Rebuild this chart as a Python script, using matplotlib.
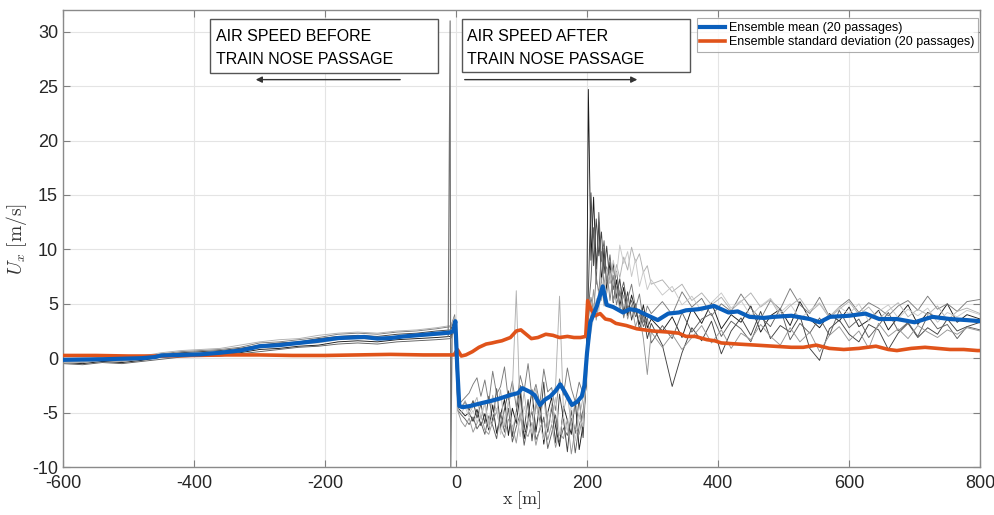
import numpy as np
import matplotlib
matplotlib.use('Agg')
import matplotlib.pyplot as plt
from matplotlib.patches import Rectangle

plt.rcParams['font.family'] = ['Liberation Sans', 'DejaVu Sans']
plt.rcParams['mathtext.fontset'] = 'cm'
plt.rcParams['axes.unicode_minus'] = False

# shared x grid for the single passages (m)
x_pre = [-600,-570,-540,-510,-480,-450,-420,-390,-360,-330,-300,-270,-240,-210,-180,-150,-120,-90,-60,-30,-8,-2]
x_mid = [3,8,14,20,26,32,38,44,50,56,62,68,74,80,86,92,98,104,110,116,
         122,128,134,140,146,152,158,164,170,176,182,188,194,199]
x_hi = [202,206,210,214,218,222,226,230,235,240,245,250,256,262,268,274,280,286,292,298]
x_tail = [315,330,345,360,375,390,405,420,435,450,465,480,495,510,525,540,555,570,585,600,
          615,630,645,660,675,690,705,720,735,750,765,780,800]

# single passages, Ux (m/s)
g1 = [-0.4,-0.5,-0.3,-0.4,-0.2,0.1,0.2,0.3,0.3,0.5,0.8,0.9,1.1,1.2,1.5,1.6,1.5,1.7,1.8,1.9,2.0,2.9,
      -4.6,-4.9,-5.3,-5.0,-5.8,-4.7,-6.2,-5.1,-6.6,-4.3,-6.9,-5.2,-3.8,-7.1,-4.6,-6.0,-3.2,-7.4,-5.5,-2.9,
      -6.8,-4.1,-7.9,-5.0,-3.6,-6.3,-8.1,-4.4,-5.7,-7.0,-3.9,-8.4,-6.1,-2.0,
      24.7,9.0,14.8,8.2,12.5,7.0,10.1,6.2,8.8,5.1,7.2,4.8,6.5,3.9,5.8,4.4,3.1,4.9,2.8,3.6,
      2.5,3.8,1.9,4.6,3.2,5.1,2.7,4.0,3.3,4.8,2.4,3.9,4.5,3.0,5.2,3.6,2.8,4.1,3.4,4.7,
      2.9,3.5,4.4,2.6,3.8,4.9,3.1,4.2,3.7,5.0,3.3,4.0,3.6]
g2 = [-0.2,-0.3,-0.1,-0.2,0.0,0.3,0.5,0.6,0.7,0.9,1.2,1.4,1.5,1.8,2.0,2.1,2.0,2.2,2.3,2.5,2.6,3.6,
      -4.3,-4.5,-4.0,-4.8,-3.9,-5.5,-4.2,-6.0,-3.5,-5.8,-2.8,-6.4,-4.7,-3.0,-7.2,-4.9,-2.5,-6.6,-3.8,-7.6,
      -4.0,-5.9,-2.2,-6.8,-4.5,-7.8,-3.3,-5.6,-8.6,-4.8,-6.9,-3.7,-7.3,-1.5,
      6.0,15.2,8.5,12.8,9.4,11.6,7.8,10.3,6.9,8.7,5.5,7.3,4.2,6.1,3.5,5.0,2.6,4.1,1.8,3.2,
      1.2,-2.6,0.5,2.8,1.6,3.4,0.4,2.5,3.7,2.1,4.3,1.8,3.0,2.4,3.9,0.9,-0.2,2.7,3.5,2.2,
      1.5,3.1,2.6,0.8,2.3,3.2,1.9,2.8,2.2,3.6,2.5,2.9,3.3]
g3 = [-0.5,-0.6,-0.4,-0.5,-0.3,-0.1,0.1,0.2,0.2,0.4,0.6,0.8,1.0,1.1,1.3,1.4,1.3,1.5,1.6,1.7,1.8,2.6,
      -4.8,-5.2,-5.6,-6.1,-5.4,-6.5,-5.9,-7.0,-5.3,-6.2,-7.4,-5.0,-6.8,-4.6,-7.7,-6.3,-5.1,-8.0,-6.0,-4.9,
      -7.5,-6.6,-5.4,-8.3,-6.9,-5.2,-7.8,-6.4,-7.1,-5.5,-8.7,-6.2,-4.8,-2.5,
      4.5,7.2,12.0,6.8,13.4,8.9,10.8,7.1,9.5,6.3,8.0,5.7,7.0,4.6,5.3,3.8,4.5,2.9,3.7,1.4,
      3.0,1.8,4.2,2.4,3.6,4.1,2.0,3.4,2.7,1.5,3.8,2.9,4.6,1.7,3.2,2.3,3.7,2.1,4.4,2.8,
      3.6,1.9,3.0,4.2,2.5,3.3,2.0,3.9,2.7,3.1,1.8,2.9,2.6]
g4 = [-0.1,-0.2,0.0,-0.1,0.1,0.4,0.6,0.7,0.8,1.0,1.4,1.5,1.7,1.9,2.2,2.3,2.2,2.4,2.5,2.7,2.9,4.0,
      -4.4,-4.0,-3.6,-3.2,-2.4,-1.8,-3.5,-2.0,-4.1,-1.2,-3.3,-2.6,-0.8,-3.9,-2.1,-4.5,-1.6,-3.0,-0.5,-3.6,
      -2.4,-4.2,-1.0,-3.1,-2.7,-4.8,-1.9,-3.4,-0.9,-2.8,-4.0,-2.2,-3.3,0.5,
      3.5,5.6,4.2,7.5,5.9,9.8,6.6,8.4,5.3,7.6,4.9,6.2,3.7,5.4,6.8,4.6,5.9,3.3,4.8,4.1,
      5.2,4.0,6.1,4.7,5.5,3.9,5.0,4.3,5.9,4.6,3.6,5.3,4.5,6.4,4.9,4.1,5.6,3.8,4.7,5.4,
      4.2,5.1,4.6,3.9,4.8,5.3,4.4,5.7,4.5,5.0,4.3,5.2,5.4]
g5 = [-0.3,-0.4,-0.2,-0.3,-0.1,0.2,0.4,0.5,0.6,0.8,1.0,1.2,1.3,1.5,1.8,1.9,1.8,2.0,2.1,2.2,2.3,3.1,
      -4.9,-5.8,-6.3,-5.5,-6.8,-6.0,-5.2,-6.6,-7.0,-5.8,-4.9,-6.5,-7.3,-5.6,-6.2,-7.8,-5.3,-6.7,-7.2,-5.9,
      -8.0,-6.4,-5.7,-7.5,-6.1,-8.2,-6.8,-7.4,-5.6,-8.8,-6.5,-7.0,-5.1,-1.8,
      2.8,4.0,6.3,3.5,5.1,7.4,4.8,6.0,8.1,5.2,6.6,4.4,5.8,3.6,4.9,2.9,4.0,1.8,-1.5,2.4,
      1.0,2.2,0.8,1.9,3.0,1.4,2.6,0.9,2.3,1.7,3.1,2.0,1.2,2.8,1.5,2.4,0.6,2.1,2.9,1.6,
      2.5,0.9,3.2,2.0,2.7,1.8,3.0,2.4,1.9,2.6,2.2,2.8,2.5]
g6 = [-0.2,-0.1,0.1,0.0,0.2,0.5,0.7,0.8,0.9,1.2,1.5,1.7,1.8,2.1,2.3,2.4,2.3,2.5,2.6,2.8,3.0,3.8,
      -4.2,-4.6,-3.9,-5.1,-4.4,-3.6,-5.6,-4.0,-6.1,-3.4,-5.0,-2.9,-6.3,-4.1,-3.0,6.2,-5.7,-3.1,-6.0,-4.6,
      -2.7,-5.4,-3.8,-6.5,-4.3,-2.5,5.7,-4.9,-3.3,-6.2,-4.0,-5.5,-3.6,-0.5,
      1.5,3.2,5.0,4.1,6.2,5.3,7.1,6.0,7.8,6.7,8.6,7.4,9.3,8.1,10.2,8.8,9.6,7.9,8.5,6.8,
      7.2,6.1,6.8,5.3,6.0,4.9,5.6,4.4,5.2,6.0,4.7,5.4,3.9,4.8,5.5,4.2,5.0,3.7,4.5,5.2,
      4.0,4.7,3.6,4.4,5.1,3.8,4.5,4.0,4.8,3.5,4.3,4.6,4.1]
g7 = [-0.4,-0.3,-0.2,-0.2,0.0,0.3,0.3,0.4,0.5,0.7,0.9,1.1,1.3,1.4,1.7,1.8,1.7,1.9,2.0,2.1,2.2,2.8,
      -4.7,-5.0,-4.5,-5.4,-4.8,-5.9,-5.1,-4.3,-6.4,-5.2,-4.6,-7.0,-5.5,-3.9,-6.6,-5.0,-7.2,-4.4,-5.8,-6.9,
      -3.8,-6.2,-7.5,-4.9,-6.0,-3.6,-7.1,-5.3,-6.7,-4.2,-7.6,-5.4,-6.3,-1.2,
      1.0,2.4,3.8,5.5,4.3,6.8,5.7,8.2,6.9,9.0,7.6,10.4,8.7,9.8,7.5,9.1,6.6,8.0,6.3,7.2,
      5.8,6.6,4.9,5.7,4.3,5.1,6.0,4.6,5.3,3.9,4.8,5.5,4.2,5.0,3.6,4.4,5.1,3.8,4.7,4.1,
      5.0,3.4,4.3,4.9,3.7,4.5,3.9,4.6,3.3,4.2,3.8,4.4,4.0]
gray_colors = ['#1a1a1a', '#404040', '#5e5e5e', '#7a7a7a', '#959595', '#b0b0b0', '#c8c8c8']

# glitch at the sensor just before the nose
x_spike = [-12, -9, -8.6, -8, -6]
y_spike = [2.0, 31.0, 13.0, -10.5, 2.0]

# ensemble mean
x_mean = [-600,-570,-540,-510,-480,-460,-450,-420,-390,-360,-330,-310,-300,-270,-240,-210,-180,-160,-140,-120,-100,-80,-60,-40,-20,-10,-4,-1,
          2,5,10,21,41,55,67,82,95,101,113,120,128,136,144,152,159,165,177,185,192,196,200,205,215,224,
          230,240,255,265,276,290,308,324,340,351,370,394,416,430,448,470,485,512,540,555,571,600,625,646,673,700,727,754,780,800]
u_mean = [-0.15,-0.12,-0.1,-0.05,0.0,0.1,0.25,0.3,0.35,0.5,0.7,0.95,1.1,1.2,1.4,1.6,1.85,1.9,1.95,1.8,1.85,2.0,2.1,2.2,2.3,2.35,2.5,3.4,
          -1.0,-4.4,-4.5,-4.4,-4.1,-3.9,-3.7,-3.4,-3.2,-2.75,-3.1,-3.4,-4.3,-3.8,-3.5,-3.0,-2.4,-3.0,-4.3,-4.0,-3.5,-2.5,0.5,3.3,4.8,6.6,
          4.9,4.7,4.2,4.5,4.4,4.0,3.5,4.1,4.2,4.4,4.5,4.8,4.2,4.3,3.8,3.7,3.8,3.9,3.6,3.3,3.8,3.9,4.1,3.6,3.6,3.3,3.8,3.6,3.5,3.4]

# ensemble standard deviation
x_std = [-600,-550,-500,-450,-400,-350,-300,-250,-200,-150,-100,-50,-10,-3,2,8,15,
         25,35,46,55,62,70,83,92,99,107,115,125,137,148,158,170,180,190,198,
         201,206,212,220,228,236,244,260,276,300,324,340,351,365,383,395,405,430,458,485,
         512,530,550,570,592,615,641,660,673,695,716,735,754,775,796,800]
u_std = [0.25,0.25,0.2,0.2,0.25,0.3,0.3,0.25,0.25,0.3,0.35,0.3,0.3,0.3,0.8,0.2,0.3,
         0.6,1.0,1.3,1.4,1.5,1.6,1.9,2.5,2.6,2.2,1.8,1.9,2.2,2.1,1.9,2.0,1.9,1.9,2.0,
         5.3,4.5,3.9,4.1,3.6,3.5,3.2,3.0,2.7,2.5,2.4,2.3,2.0,2.0,1.7,1.6,1.4,1.3,1.2,1.1,
         1.0,1.0,1.2,0.9,0.8,0.9,1.1,0.8,0.7,0.9,1.0,0.9,0.8,0.8,0.7,0.7]

x_gray = x_pre + x_mid + x_hi + x_tail

fig = plt.figure(figsize=(9.95, 5.15), dpi=100)
ax = fig.add_axes([0.0633, 0.0932, 0.9217, 0.8874])

for g, c in zip([g1, g2, g3, g4, g5, g6, g7], gray_colors):
    ax.plot(x_gray, g, color=c, lw=0.65, zorder=2)
ax.plot(x_spike, y_spike, color='#707070', lw=0.8, zorder=2)

ax.plot(x_std, u_std, color='#e0531a', lw=2.6, zorder=3,
        label='Ensemble standard deviation (20 passages)')
ax.plot(x_mean, u_mean, color='#0a5fbc', lw=3.0, zorder=4,
        label='Ensemble mean (20 passages)')

ax.set_xlim(-600, 800)
ax.set_ylim(-10, 32)
ax.set_xticks(np.arange(-600, 801, 200))
ax.set_yticks(np.arange(-10, 31, 5))
ax.grid(True, color='#e4e4e4', lw=0.8)
ax.set_axisbelow(True)
ax.tick_params(direction='in', length=5, top=True, right=True, labelsize=13,
               color='#808080', labelcolor='#262626')
ax.tick_params(axis='x', pad=6)
for s in ax.spines.values():
    s.set_color('#8a8a8a')
    s.set_linewidth(1.0)

ax.set_xlabel(r'$\mathrm{x}\ [\mathrm{m}]$', fontsize=13, color='#333333', labelpad=-2)
ax.set_ylabel(r'$U_x\ [\mathrm{m/s}]$', fontsize=14, color='#333333', labelpad=2)

# annotation boxes and arrows
ax.add_patch(Rectangle((-376, 26.2), 349, 5.0, fill=True, fc='white', ec='#555555', lw=1.0, zorder=5))
ax.text(-366, 29.6, 'AIR SPEED BEFORE', fontsize=11.5, va='center', ha='left', zorder=6)
ax.text(-366, 27.45, 'TRAIN NOSE PASSAGE', fontsize=11.5, va='center', ha='left', zorder=6)
ax.add_patch(Rectangle((9, 26.3), 348, 4.9, fill=True, fc='white', ec='#555555', lw=1.0, zorder=5))
ax.text(17, 29.6, 'AIR SPEED AFTER', fontsize=11.5, va='center', ha='left', zorder=6)
ax.text(17, 27.45, 'TRAIN NOSE PASSAGE', fontsize=11.5, va='center', ha='left', zorder=6)
ax.annotate('', xy=(-310, 25.6), xytext=(-81, 25.6),
            arrowprops=dict(arrowstyle='-|>', color='#333333', lw=1.0, mutation_scale=9))
ax.annotate('', xy=(281, 25.6), xytext=(9, 25.6),
            arrowprops=dict(arrowstyle='-|>', color='#333333', lw=1.0, mutation_scale=9))

h, l = ax.get_legend_handles_labels()
leg = ax.legend(h[::-1], l[::-1], loc='upper right', bbox_to_anchor=(0.998, 0.982),
                fontsize=9, frameon=True, fancybox=False, edgecolor='#999999',
                handlelength=2.0, handletextpad=0.3, labelspacing=0.2,
                borderpad=0.3, borderaxespad=0)
leg.get_frame().set_linewidth(0.8)
leg.set_zorder(7)

fig.savefig('out.png', dpi=100)
